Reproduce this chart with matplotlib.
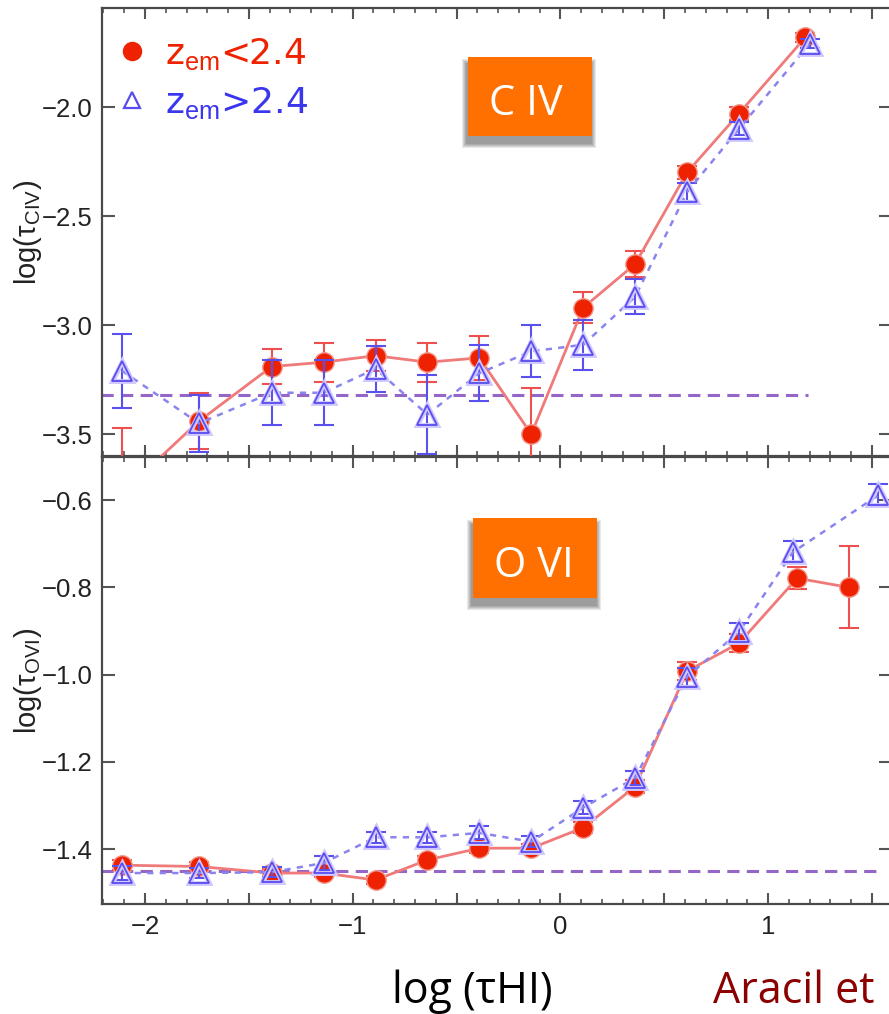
import matplotlib
matplotlib.use('Agg')
import matplotlib.pyplot as plt
from matplotlib.lines import Line2D
from matplotlib.patches import Rectangle
from matplotlib.ticker import MultipleLocator, FuncFormatter

plt.rcParams['mathtext.fontset'] = 'custom'
plt.rcParams['mathtext.rm'] = 'Liberation Sans'
plt.rcParams['mathtext.it'] = 'Liberation Sans:italic'
plt.rcParams['mathtext.default'] = 'regular'

# ---------------- data ----------------
# C IV panel, z_em < 2.4 (red circles)
civ_lo_x = [-2.11, -1.74, -1.39, -1.14, -0.89, -0.64, -0.39, -0.14, 0.11, 0.36, 0.61, 0.86, 1.18]
civ_lo_y = [-3.77, -3.44, -3.19, -3.17, -3.14, -3.17, -3.15, -3.50, -2.92, -2.72, -2.30, -2.03, -1.68]
civ_lo_e = [0.30, 0.13, 0.08, 0.09, 0.07, 0.09, 0.10, 0.21, 0.07, 0.06, 0.03, 0.03, 0.02]
# C IV panel, z_em > 2.4 (blue triangles)
civ_hi_x = [-2.11, -1.74, -1.39, -1.14, -0.89, -0.64, -0.39, -0.14, 0.11, 0.36, 0.61, 0.86, 1.20]
civ_hi_y = [-3.21, -3.45, -3.31, -3.31, -3.20, -3.41, -3.22, -3.12, -3.09, -2.87, -2.39, -2.10, -1.71]
civ_hi_e = [0.17, 0.13, 0.15, 0.15, 0.105, 0.18, 0.13, 0.12, 0.115, 0.08, 0.04, 0.03, 0.02]
civ_base_y = -3.32
civ_base_x = [-2.21, 1.19]

# O VI panel, z_em < 2.4 (red circles)
ovi_lo_x = [-2.11, -1.74, -1.39, -1.14, -0.89, -0.64, -0.39, -0.14, 0.11, 0.36, 0.61, 0.86, 1.14, 1.39]
ovi_lo_y = [-1.437, -1.440, -1.455, -1.455, -1.471, -1.425, -1.398, -1.398, -1.351, -1.257,
            -0.992, -0.928, -0.779, -0.800]
ovi_lo_e = [0.012, 0.010, 0.010, 0.010, 0.010, 0.010, 0.010, 0.010, 0.012, 0.015,
            0.020, 0.020, 0.025, 0.094]
# O VI panel, z_em > 2.4 (blue triangles)
ovi_hi_x = [-2.11, -1.74, -1.39, -1.14, -0.89, -0.64, -0.39, -0.14, 0.11, 0.36, 0.61, 0.86, 1.12, 1.53]
ovi_hi_y = [-1.455, -1.455, -1.453, -1.432, -1.373, -1.373, -1.363, -1.383, -1.305, -1.237,
            -1.005, -0.902, -0.719, -0.589]
ovi_hi_e = [0.015, 0.012, 0.012, 0.015, 0.012, 0.012, 0.015, 0.012, 0.015, 0.015,
            0.020, 0.020, 0.025, 0.025]
ovi_base_y = -1.45
ovi_base_x = [-2.21, 1.54]

legend_labels = ['z$_{\\mathrm{em}}$<2.4', 'z$_{\\mathrm{em}}$>2.4']
ylabels = ['log(τ$_{\\mathrm{CIV}}$)', 'log(τ$_{\\mathrm{OVI}}$)']
ion_labels = ['C IV', 'O VI']
xlabel_text = 'log (τHI)'
credit_text = 'Aracil et'

# ---------------- style ----------------
RED = '#ee2200'
RED_LINE = '#f07a7a'
RED_ERR = '#ee5050'
BLUE = '#5a4cf0'
BLUE_LINE = '#8a84ee'
BLUE_ERR = '#5a50ee'
BASE = '#9466c8'
ORANGE = '#ff7000'
TICK_FONT = 'Liberation Sans'

W, H = 889, 1014
fig = plt.figure(figsize=(W / 100, H / 100), dpi=100)


def frac(x0, y0, x1, y1):
    return [x0 / W, 1 - y1 / H, (x1 - x0) / W, (y1 - y0) / H]


ax1 = fig.add_axes(frac(102, 8, 891, 456))
ax2 = fig.add_axes(frac(102, 457, 891, 904))


def xfmt(v, p):
    if abs(v - round(v)) < 1e-6:
        return f'{int(round(v))}'.replace('-', '\u2212')
    return ''


def style(ax, ylim, ystep):
    ax.set_xlim(-2.207, 1.592)
    ax.set_ylim(*ylim)
    ax.xaxis.set_major_locator(MultipleLocator(0.5))
    ax.xaxis.set_minor_locator(MultipleLocator(0.1))
    ax.yaxis.set_major_locator(MultipleLocator(ystep))
    ax.xaxis.set_major_formatter(FuncFormatter(xfmt))
    ax.tick_params(which='both', direction='in', top=True, right=True,
                   color='#555555', labelcolor='#222222', labelsize=18.5)
    ax.tick_params(axis='x', which='major', length=8, width=1.5, pad=8)
    ax.tick_params(axis='x', which='minor', length=3.5, width=1.2)
    ax.tick_params(axis='y', which='major', length=9, width=1.5, pad=7)
    for lab in ax.get_xticklabels() + ax.get_yticklabels():
        lab.set_fontfamily(TICK_FONT)
    for sp in ax.spines.values():
        sp.set_color('#4a4a4a')
        sp.set_linewidth(1.6)


def draw_series(ax, lx, ly, le, hx, hy, he, base_x, base_y):
    # baseline level
    ax.hlines(base_y, base_x[0], base_x[1], colors=BASE, linewidth=2.2,
              linestyles=(0, (4, 2.4)), zorder=2)
    # red series
    ax.errorbar(lx, ly, yerr=le, fmt='none', ecolor=RED_ERR, elinewidth=1.5,
                capsize=7, capthick=1.5, zorder=3)
    ax.plot(lx, ly, color=RED_LINE, lw=2.0, zorder=3, solid_capstyle='round')
    ax.plot(lx, ly, ls='none', marker='o', ms=14, mfc=RED, mec='#f29a90', mew=1.0, zorder=4)
    # blue series
    ax.errorbar(hx, hy, yerr=he, fmt='none', ecolor=BLUE_ERR, elinewidth=1.5,
                capsize=7, capthick=1.5, zorder=5)
    ax.plot(hx, hy, color=BLUE_LINE, lw=1.8, ls=(0, (2.5, 2.5)), zorder=5)
    ax.plot(hx, hy, ls='none', marker='^', ms=15, mfc='none', mec='#cfc8ff', mew=3.5, zorder=6)
    ax.plot(hx, hy, ls='none', marker='^', ms=15, mfc='none', mec=BLUE, mew=1.3, zorder=7)


style(ax1, (-3.60, -1.546), 0.5)
style(ax2, (-1.526, -0.501), 0.2)
ax1.tick_params(axis='x', labelbottom=False)

draw_series(ax1, civ_lo_x, civ_lo_y, civ_lo_e, civ_hi_x, civ_hi_y, civ_hi_e, civ_base_x, civ_base_y)
draw_series(ax2, ovi_lo_x, ovi_lo_y, ovi_lo_e, ovi_hi_x, ovi_hi_y, ovi_hi_e, ovi_base_x, ovi_base_y)

for ax, lab in zip((ax1, ax2), ylabels):
    ax.set_ylabel(lab, fontsize=21, family=TICK_FONT, color='#222222')
    ax.yaxis.set_label_coords(-0.074, 0.5)

# legend
handles = [Line2D([], [], ls='none', marker='o', ms=13, mfc=RED, mec=RED),
           Line2D([], [], ls='none', marker='^', ms=12, mfc='none', mec=BLUE, mew=1.6)]
ax1.legend(handles, legend_labels, loc='upper left', bbox_to_anchor=(0.0152, 0.938),
           frameon=False, prop={'family': 'DejaVu Sans', 'size': 26},
           labelcolor=[RED, '#3a36ee'], handlelength=1.0, handletextpad=0.42,
           labelspacing=0.36, borderaxespad=0, borderpad=0)


# orange ion boxes
def ion_box(x0, y0, x1, y1, text, tx, ty):
    for k in range(5, 0, -1):
        sh = Rectangle(((x0 - 1 - k) / W, 1 - (y1 + 7 + k) / H), (x1 - x0 + 2 * k) / W,
                       (y1 - y0 + 2 * k) / H, transform=fig.transFigure,
                       facecolor='black', edgecolor='none', alpha=0.09, zorder=8)
        fig.add_artist(sh)
    box = Rectangle((x0 / W, 1 - y1 / H), (x1 - x0) / W, (y1 - y0) / H,
                    transform=fig.transFigure, facecolor=ORANGE, edgecolor='none', zorder=9)
    fig.add_artist(box)
    fig.text(tx / W, 1 - ty / H, text, color='white', fontsize=30, family='Open Sans',
             ha='center', va='baseline', zorder=10)


ion_box(468, 57, 592, 136, ion_labels[0], 526, 115)
ion_box(473, 518, 597, 598, ion_labels[1], 534, 577)

fig.text(392 / W, 1 - 1003 / H, xlabel_text, fontsize=31, family='Open Sans', color='black',
         ha='left', va='baseline')
fig.text(713 / W, 1 - 1003 / H, credit_text, fontsize=31, family='Open Sans', color='#8b0000',
         ha='left', va='baseline')

fig.savefig('out.png', dpi=100)
